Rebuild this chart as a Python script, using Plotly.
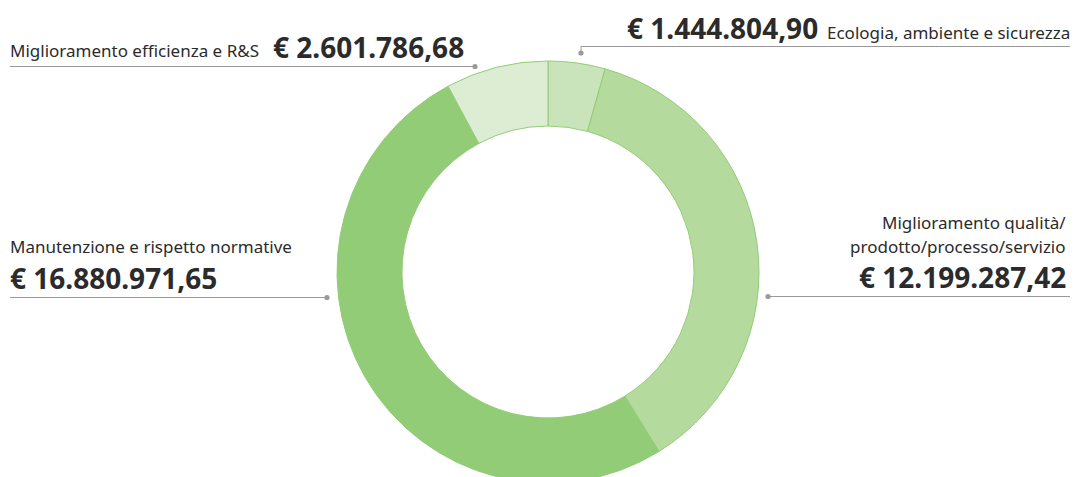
import plotly.graph_objects as go

# ---- data ----
categories = [
    "Ecologia, ambiente e sicurezza",
    "Miglioramento qualità/prodotto/processo/servizio",
    "Manutenzione e rispetto normative",
    "Miglioramento efficienza e R&S",
]
values = [1444804.90, 12199287.42, 16880971.65, 2601786.68]
value_labels = ["€ 1.444.804,90", "€ 12.199.287,42", "€ 16.880.971,65", "€ 2.601.786,68"]
colors = ["#c9e3ba", "#b5da9e", "#93cc77", "#dcedd3"]

W, H = 1075, 490


def px(x):
    return x / W


def py(y):
    return 1 - y / H


FONT = "Noto Sans"
TXT = "#2b2b2b"
LINE = "#9a9a9a"

fig = go.Figure(
    go.Pie(
        labels=categories,
        values=values,
        sort=False,
        direction="clockwise",
        rotation=0,
        hole=0.692,
        marker=dict(colors=colors, line=dict(color="#93cc77", width=1)),
        textinfo="none",
        hoverinfo="skip",
        domain=dict(x=[px(337), px(759)], y=[py(483), py(61)]),
        showlegend=False,
    )
)

ann = []


def add_text(text, x, y, size, bold=False, xanchor="left"):
    ann.append(
        dict(
            text=f"<b>{text}</b>" if bold else text,
            x=px(x), y=py(y), xref="paper", yref="paper",
            xanchor=xanchor, yanchor="middle", showarrow=False,
            font=dict(family=FONT, size=size, color=TXT),
        )
    )


LS, NS = 17, 28
# top-left (efficienza)
add_text(categories[3], 8, 50, LS)
add_text(value_labels[3], 271, 47, NS, bold=True)
# top-right (ecologia)
add_text(value_labels[0], 820, 28, NS, bold=True, xanchor="right")
add_text(categories[0], 1072, 32, LS, xanchor="right")
# right (qualita)
add_text("Miglioramento qualità/", 1068, 222, LS, xanchor="right")
add_text("prodotto/processo/servizio", 1068, 246, LS, xanchor="right")
add_text(value_labels[1], 1068, 277, NS, bold=True, xanchor="right")
# left (manutenzione)
add_text(categories[2], 8, 246, LS)
add_text(value_labels[2], 8, 278, NS, bold=True)

shapes = []


def hline(x0, x1, y):
    shapes.append(dict(type="line", xref="paper", yref="paper",
                       x0=px(x0), x1=px(x1), y0=py(y), y1=py(y),
                       line=dict(color=LINE, width=1)))


def vline(x, y0, y1):
    shapes.append(dict(type="line", xref="paper", yref="paper",
                       x0=px(x), x1=px(x), y0=py(y0), y1=py(y1),
                       line=dict(color=LINE, width=1)))


def dot(x, y, r=2.6):
    shapes.append(dict(type="circle", xref="paper", yref="paper",
                       x0=px(x - r), x1=px(x + r), y0=py(y + r), y1=py(y - r),
                       fillcolor=LINE, line=dict(width=0)))


hline(10, 475, 66.5)
dot(475, 66.5)
hline(581, 1070, 46.5)
vline(581, 46.5, 53)
dot(581, 53)
hline(768, 1070, 296.5)
dot(768, 296.5)
hline(10, 327, 297.5)
dot(327, 297.5)

fig.update_layout(
    width=W, height=H,
    margin=dict(l=0, r=0, t=0, b=0),
    paper_bgcolor="white",
    plot_bgcolor="white",
    annotations=ann,
    shapes=shapes,
)

fig.write_html(
    "out.html",
    config={"displayModeBar": False},
    post_script="document.body.style.margin='0';document.body.style.overflow='hidden';document.documentElement.style.overflow='hidden';",
)
